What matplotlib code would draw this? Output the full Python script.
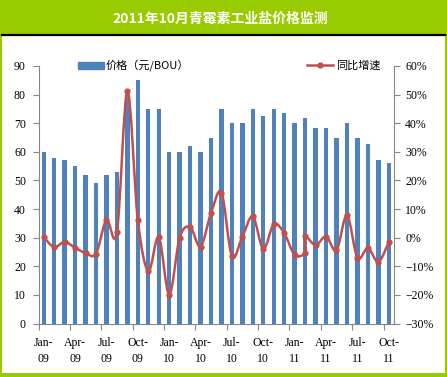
import numpy as np
import matplotlib
matplotlib.use("Agg")
import matplotlib.pyplot as plt
from matplotlib.patches import Rectangle
from matplotlib.lines import Line2D
from matplotlib.path import Path
from matplotlib.patches import PathPatch

# months Jan-09 .. Oct-11
months = [f"{m}-{y}" for y in ("09", "10", "11")
          for m in ("Jan", "Feb", "Mar", "Apr", "May", "Jun",
                    "Jul", "Aug", "Sep", "Oct", "Nov", "Dec")][:34]
tick_labels = ["Jan-\n09", "Apr-\n09", "Jul-\n09", "Oct-\n09",
               "Jan-\n10", "Apr-\n10", "Jul-\n10", "Oct-\n10",
               "Jan-\n11", "Apr-\n11", "Jul-\n11", "Oct-\n11"]

# price, yuan/BOU
price = [60, 58, 57, 55, 52, 49, 52, 53, 79, 85, 75, 75,
         60, 60, 62, 60, 65, 75, 70, 70, 75, 72.5, 75, 73.5,
         70, 72, 68.5, 68.5, 65, 70, 65, 62.7, 57.3, 56]

# year-on-year growth, % (Feb-11 is plotted twice in the source chart)
yoy_month = list(range(26)) + [25] + list(range(26, 34))
yoy = [0.2, -3.3, -1.5, -3.5, -5.4, -5.6, 6.2, 1.9, 51.2, 6.2, -11.7, 0.2,
       -19.9, 0.0, 3.7, -3.1, 8.6, 15.7, -6.5, 0.4, 7.4, -3.9, 4.7, 1.6,
       -6.0, -5.2, 0.5, -2.6, 0.4, -4.4, 7.8, -7.0, -3.7, -8.4, -1.6]

GREEN = "#99CC00"
BLUE = "#4F81BD"
RED = "#C0504D"
AXC = "#868686"
W, H = 447, 377

plt.rcParams["font.family"] = ["Liberation Serif", "Noto Sans CJK SC", "DejaVu Sans"]

fig = plt.figure(figsize=(W / 100, H / 100), dpi=100, facecolor=GREEN)
# white panel and black rule under the title bar
fig.patches.append(Rectangle((2 / W, 4 / H), 443 / W, 337 / H,
                             transform=fig.transFigure, facecolor="white",
                             edgecolor="none", zorder=-5))
fig.lines.append(Line2D([2 / W, 445 / W], [1 - 35 / H, 1 - 35 / H],
                        transform=fig.transFigure, color="black", lw=1.6, zorder=-4))
fig.text(220 / W, 1 - 19 / H, "2011年10月青霉素工业盐价格监测", color="white",
         fontsize=10, fontweight="bold", ha="center", va="center",
         family=["Noto Sans CJK SC", "DejaVu Sans"])

left, right, top, bottom = 38.5, 394, 66, 323.5
ax = fig.add_axes([left / W, 1 - bottom / H, (right - left) / W, (bottom - top) / H])
ax.set_facecolor("none")
x = np.arange(len(months))
ax.bar(x, price, width=0.42, color=BLUE, zorder=2)
ax.set_xlim(-0.5, len(months) - 0.5)
ax.set_ylim(0, 90)
ax.set_yticks(range(0, 91, 10))

ax.set_xticks(np.arange(-0.5, 33, 3))
ax.set_xticklabels([])
ax.set_xticks(np.arange(0, 34, 3), minor=True)
ax.set_xticklabels(tick_labels, minor=True, linespacing=1.45)
ax.tick_params(axis="x", which="major", direction="out", length=4, color=AXC)
ax.tick_params(axis="x", which="minor", length=0, pad=10, labelsize=8.5)
ax.tick_params(axis="y", direction="out", length=4, color=AXC, labelsize=8.5, pad=5)
for s in ("top", "right"):
    ax.spines[s].set_visible(False)
for s in ("left", "bottom"):
    ax.spines[s].set_color(AXC)

ax2 = ax.twinx()
ax2.set_ylim(-30, 60)
ax2.set_yticks(range(-30, 61, 10))
ax2.set_yticklabels([f"{v}%".replace("-", "\u2212") for v in range(-30, 61, 10)])
ax2.tick_params(axis="y", direction="out", length=4, color=AXC, labelsize=8.5, pad=4)
for s in ("top", "left", "bottom"):
    ax2.spines[s].set_visible(False)
ax2.spines["right"].set_color(AXC)

# smoothed line (Bezier through the points, like the Excel smooth line)
pts = np.column_stack([yoy_month, yoy]).astype(float)
verts = [pts[0]]
codes = [Path.MOVETO]
n = len(pts)
for i in range(n - 1):
    p0 = pts[max(i - 1, 0)]
    p1, p2 = pts[i], pts[i + 1]
    p3 = pts[min(i + 2, n - 1)]
    verts += [p1 + (p2 - p0) / 6, p2 - (p3 - p1) / 6, p2]
    codes += [Path.CURVE4] * 3
ax2.add_patch(PathPatch(Path(verts, codes), facecolor="none", edgecolor=RED,
                        lw=1.8, zorder=3))
ax2.plot(yoy_month, yoy, ls="none", marker="o", ms=3.5, color=RED, zorder=4)

# legend
ax.legend([Rectangle((0, 0), 1, 1, color=BLUE)], ["价格（元/BOU）"],
          loc="center left", bbox_to_anchor=(68 / W, 1 - 66 / H),
          bbox_transform=fig.transFigure, frameon=False,
          handlelength=2.3, handleheight=0.5, handletextpad=0.2,
          prop={"family": ["Noto Sans CJK SC", "DejaVu Sans"], "size": 8})
ax2.legend([Line2D([], [], color=RED, lw=1.8, marker="o", ms=3.5)], ["同比增速"],
           loc="center left", bbox_to_anchor=(297 / W, 1 - 66 / H),
           bbox_transform=fig.transFigure, frameon=False,
           handlelength=2.3, handletextpad=0.3,
           prop={"family": ["Noto Sans CJK SC", "DejaVu Sans"], "size": 8})

fig.savefig("out.png", dpi=100, facecolor=GREEN)
